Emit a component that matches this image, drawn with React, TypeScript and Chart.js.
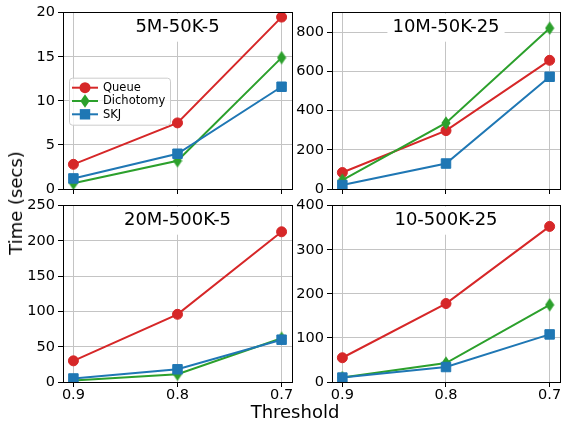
import React, { useEffect, useRef } from 'react';
import { Chart, registerables } from 'chart.js';

Chart.register(...registerables);
Chart.defaults.font.family = "'DejaVu Sans', sans-serif";

// ---------------- data ----------------
const thresholds = [0.9, 0.8, 0.7];
const seriesNames = ['Queue', 'Dichotomy', 'SKJ'];
const seriesColors = ['#d62728', '#2ca02c', '#1f77b4'];
const panelTitles = ['5M-50K-5', '10M-50K-25', '20M-500K-5', '10-500K-25'];

const queue5M = [2.8, 7.5, 19.5];
const dichotomy5M = [0.65, 3.2, 14.9];
const skj5M = [1.2, 4.0, 11.6];

const queue10M = [84, 298, 657];
const dichotomy10M = [45, 337, 821];
const skj10M = [20, 130, 573];

const queue20M = [30, 96, 213];
const dichotomy20M = [2, 11, 62];
const skj20M = [5, 18, 60];

const queue10 = [55, 178, 353];
const dichotomy10 = [10, 43, 175];
const skj10 = [10, 34, 108];

const yTicks5M = [0, 5, 10, 15, 20];
const yTicks10M = [0, 200, 400, 600, 800];
const yTicks20M = [0, 50, 100, 150, 200, 250];
const yTicks10 = [0, 100, 200, 300, 400];
const yLimits = [20, 900, 250, 400];

const xLabel = 'Threshold';
const yLabel = 'Time (secs)';

// ---------------- layout ----------------
const YW = 60; // y-axis band width
const PT = 10; // top padding
const PR = 14; // right padding
const XH = 30; // x-axis band height
const GRID = '#c4c4c4';
const FONT = "'DejaVu Sans', sans-serif";

const panels = [
  { title: panelTitles[0], series: [queue5M, dichotomy5M, skj5M], yTicks: yTicks5M, yMax: yLimits[0], left: 63, top: 11, right: 292, bottom: 189, showX: false, legend: true },
  { title: panelTitles[1], series: [queue10M, dichotomy10M, skj10M], yTicks: yTicks10M, yMax: yLimits[1], left: 332, top: 11, right: 560, bottom: 189, showX: false, legend: false },
  { title: panelTitles[2], series: [queue20M, dichotomy20M, skj20M], yTicks: yTicks20M, yMax: yLimits[2], left: 63, top: 204, right: 292, bottom: 382, showX: true, legend: false },
  { title: panelTitles[3], series: [queue10, dichotomy10, skj10], yTicks: yTicks10, yMax: yLimits[3], left: 332, top: 204, right: 560, bottom: 382, showX: true, legend: false },
];

let diamondCache: HTMLCanvasElement | null = null;
function diamondImage(): HTMLCanvasElement {
  if (diamondCache) return diamondCache;
  const c = document.createElement('canvas');
  c.width = 10;
  c.height = 14;
  const g = c.getContext('2d')!;
  g.fillStyle = seriesColors[1];
  g.beginPath();
  g.moveTo(5, 0.3);
  g.lineTo(9.6, 7);
  g.lineTo(5, 13.7);
  g.lineTo(0.4, 7);
  g.closePath();
  g.fill();
  diamondCache = c;
  return c;
}

function drawMarker(ctx: CanvasRenderingContext2D, kind: number, x: number, y: number, color: string) {
  ctx.fillStyle = color;
  ctx.beginPath();
  if (kind === 0) {
    ctx.arc(x, y, 5.5, 0, Math.PI * 2);
  } else if (kind === 1) {
    ctx.moveTo(x, y - 6.7);
    ctx.lineTo(x + 4.6, y);
    ctx.lineTo(x, y + 6.7);
    ctx.lineTo(x - 4.6, y);
    ctx.closePath();
  } else {
    ctx.rect(x - 5.2, y - 5.2, 10.4, 10.4);
  }
  ctx.fill();
}

function makeDeco(title: string, legend: boolean) {
  return {
    id: 'panelDeco',
    beforeDatasetsDraw(chart: any) {
      const { ctx, chartArea } = chart;
      ctx.save();
      ctx.font = `18px ${FONT}`;
      const w = ctx.measureText(title).width;
      const cx = (chartArea.left + chartArea.right) / 2;
      const cy = chartArea.top + 15;
      ctx.fillStyle = '#ffffff';
      ctx.fillRect(cx - w / 2 - 5, cy - 14, w + 10, 28);
      ctx.fillStyle = '#000000';
      ctx.textAlign = 'center';
      ctx.textBaseline = 'middle';
      ctx.fillText(title, cx, cy);
      ctx.restore();
    },
    afterDatasetsDraw(chart: any) {
      const { ctx, chartArea } = chart;
      ctx.save();
      // spines
      const a = (p: number) => Math.round(p - 0.5) + 0.5;
      ctx.strokeStyle = '#000000';
      ctx.lineWidth = 1;
      ctx.strokeRect(a(chartArea.left), a(chartArea.top), a(chartArea.right) - a(chartArea.left), a(chartArea.bottom) - a(chartArea.top));
      if (legend) {
        const lx = chartArea.left + 6;
        const ly = chartArea.top + 65;
        const lw = 101;
        const lh = 47;
        ctx.beginPath();
        if ((ctx as any).roundRect) {
          (ctx as any).roundRect(lx + 0.5, ly + 0.5, lw, lh, 3);
        } else {
          ctx.rect(lx + 0.5, ly + 0.5, lw, lh);
        }
        ctx.fillStyle = 'rgba(255,255,255,0.8)';
        ctx.fill();
        ctx.strokeStyle = '#cccccc';
        ctx.lineWidth = 1;
        ctx.stroke();
        seriesNames.forEach((name, i) => {
          const y = ly + 10 + i * 13.3;
          ctx.strokeStyle = seriesColors[i];
          ctx.lineWidth = 2;
          ctx.beginPath();
          ctx.moveTo(lx + 3, y);
          ctx.lineTo(lx + 29, y);
          ctx.stroke();
          drawMarker(ctx, i, lx + 16, y, seriesColors[i]);
          ctx.fillStyle = '#000000';
          ctx.font = `11.5px ${FONT}`;
          ctx.textAlign = 'left';
          ctx.textBaseline = 'middle';
          ctx.fillText(name, lx + 34, y + 0.5);
        });
      }
      ctx.restore();
    },
  };
}

function Panel({ cfg }: { cfg: any }) {
  const ref = useRef<HTMLCanvasElement>(null);
  const w = YW + (cfg.right - cfg.left) + PR;
  const h = PT + (cfg.bottom - cfg.top) + XH;
  useEffect(() => {
    const styles: any[] = ['circle', diamondImage(), 'rect'];
    const radii = [5, 6, 6.7];
    const chart = new Chart(ref.current!, {
      type: 'line',
      data: {
        datasets: cfg.series.map((vals: number[], i: number) => ({
          label: seriesNames[i],
          data: thresholds.map((t, k) => ({ x: t, y: vals[k] })),
          borderColor: seriesColors[i],
          backgroundColor: seriesColors[i],
          borderWidth: 2,
          pointStyle: styles[i],
          pointRadius: radii[i],
          pointBorderWidth: 1,
          pointBorderColor: seriesColors[i],
          pointBackgroundColor: seriesColors[i],
          tension: 0,
          fill: false,
          order: 3 - i,
        })),
      },
      options: {
        responsive: false,
        animation: false,
        devicePixelRatio: 1,
        events: [],
        layout: { padding: { left: 0, top: PT, right: PR, bottom: 0 } },
        plugins: { legend: { display: false }, tooltip: { enabled: false } },
        scales: {
          x: {
            type: 'linear',
            min: 0.69,
            max: 0.91,
            reverse: true,
            afterBuildTicks: (s: any) => {
              s.ticks = thresholds.map((v) => ({ value: v }));
            },
            afterFit: (s: any) => {
              s.height = XH;
            },
            grid: { color: GRID, lineWidth: 1, drawTicks: true, tickLength: 5, tickColor: '#000000', tickWidth: 1 },
            border: { display: false },
            ticks: {
              display: cfg.showX,
              padding: 0,
              color: '#000000',
              maxRotation: 0,
              autoSkip: false,
              font: { size: 14.5, family: FONT },
              callback: (v: any) => Number(v).toFixed(1),
            },
          },
          y: {
            type: 'linear',
            min: 0,
            max: cfg.yMax,
            afterBuildTicks: (s: any) => {
              s.ticks = cfg.yTicks.map((v: number) => ({ value: v }));
            },
            afterFit: (s: any) => {
              s.width = YW;
            },
            grid: { color: GRID, lineWidth: 1, drawTicks: true, tickLength: 5, tickColor: '#000000', tickWidth: 1 },
            border: { display: false },
            ticks: {
              padding: 3,
              color: '#000000',
              autoSkip: false,
              font: { size: 14.5, family: FONT },
              callback: (v: any) => String(v),
            },
          },
        },
      } as any,
      plugins: [makeDeco(cfg.title, cfg.legend)],
    });
    return () => chart.destroy();
  }, []);
  return (
    <canvas
      ref={ref}
      width={w}
      height={h}
      style={{ position: 'absolute', left: cfg.left - YW, top: cfg.top - PT, width: w, height: h, display: 'block' }}
    />
  );
}

export default function App() {
  return (
    <div
      style={{
        position: 'absolute',
        left: 0,
        top: 0,
        width: 562,
        height: 424,
        overflow: 'hidden',
        background: '#ffffff',
        fontFamily: FONT,
      }}
    >
      {panels.map((p, i) => (
        <Panel key={i} cfg={p} />
      ))}
      <div
        style={{
          position: 'absolute',
          left: 16,
          top: 203,
          transform: 'translate(-50%, -50%) rotate(-90deg)',
          whiteSpace: 'nowrap',
          fontSize: 18,
          lineHeight: '18px',
          color: '#000',
        }}
      >
        {yLabel}
      </div>
      <div
        style={{
          position: 'absolute',
          left: 295,
          top: 412,
          transform: 'translate(-50%, -50%)',
          whiteSpace: 'nowrap',
          fontSize: 18,
          lineHeight: '18px',
          color: '#000',
        }}
      >
        {xLabel}
      </div>
    </div>
  );
}
